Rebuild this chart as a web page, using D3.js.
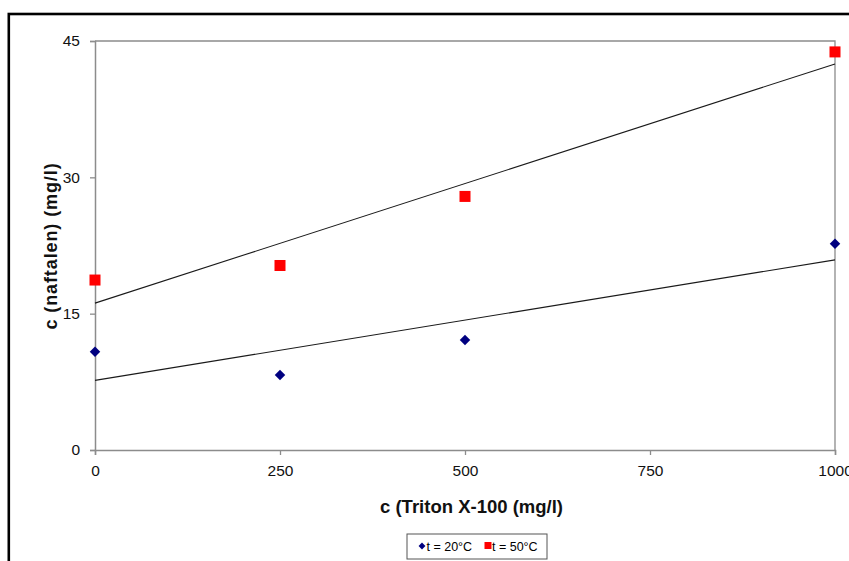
<!DOCTYPE html>
<html>
<head>
<meta charset="utf-8">
<script src="https://cdn.jsdelivr.net/npm/d3@7"></script>
<style>
  html, body { margin: 0; padding: 0; background: #fff; }
  svg { display: block; font-family: "Liberation Sans", Arial, sans-serif; }
</style>
</head>
<body>
<svg id="chart" width="849" height="561"></svg>
<script>
// Surfactant concentration (mg/l) and measured naphthalene solubility (mg/l)
const tritonConc = [0, 250, 500, 1000];
const naft20 = [10.8, 8.25, 12.1, 22.7];
const naft50 = [18.7, 20.3, 27.9, 43.8];
const xTicks = [0, 250, 500, 750, 1000];
const yTicks = [0, 15, 30, 45];
const seriesNames = ["t = 20°C", "t = 50°C"];

const svg = d3.select("#chart");

// Outer chart frame
svg.append("rect")
  .attr("x", 8.8).attr("y", 14)
  .attr("width", 860).attr("height", 570)
  .attr("fill", "#fff").attr("stroke", "#000").attr("stroke-width", 2.6);

const plot = { left: 95, top: 41, right: 835, bottom: 450 };

const x = d3.scaleLinear().domain([0, 1000]).range([plot.left, plot.right]);
const y = d3.scaleLinear().domain([0, 45]).range([plot.bottom, plot.top]);

// Plot area frame (top and right edges)
svg.append("path")
  .attr("d", `M${plot.left},${plot.top}H${plot.right}V${plot.bottom}`)
  .attr("fill", "none").attr("stroke", "#8c8c8c").attr("stroke-width", 1.3);

// Axes
const yAxis = d3.axisLeft(y).tickValues(yTicks).tickSize(5).tickPadding(10).tickFormat(d3.format("d"));
const xAxis = d3.axisBottom(x).tickValues(xTicks).tickSize(5).tickPadding(10).tickFormat(d3.format("d"));

const gy = svg.append("g").attr("transform", `translate(${plot.left},0)`).call(yAxis);
const gx = svg.append("g").attr("transform", `translate(0,${plot.bottom})`).call(xAxis);
[gx, gy].forEach(g => {
  g.select(".domain").attr("stroke", "#8c8c8c").attr("stroke-width", 1.5);
  g.selectAll(".tick line").attr("stroke", "#8c8c8c").attr("stroke-width", 1.3);
  g.selectAll(".tick text").attr("fill", "#111").attr("font-size", 15.5)
    .attr("font-family", "'Liberation Sans', Arial, sans-serif");
});

// Linear least-squares trend line for a series
function fit(xs, ys) {
  const mx = d3.mean(xs), my = d3.mean(ys);
  let sxy = 0, sxx = 0;
  xs.forEach((v, i) => { sxy += (v - mx) * (ys[i] - my); sxx += (v - mx) ** 2; });
  const b = sxy / sxx;
  return { a: my - b * mx, b };
}

[naft20, naft50].forEach(ys => {
  const f = fit(tritonConc, ys);
  svg.append("line")
    .attr("x1", x(0)).attr("y1", y(f.a))
    .attr("x2", x(1000)).attr("y2", y(f.a + f.b * 1000))
    .attr("stroke", "#1a1a1a").attr("stroke-width", 1.1);
});

// Markers
const diamond = d3.symbol().type(d3.symbolDiamond2).size(70);
svg.append("g").selectAll("path")
  .data(tritonConc.map((c, i) => [c, naft20[i]]))
  .join("path")
  .attr("d", diamond)
  .attr("transform", d => `translate(${x(d[0])},${y(d[1])})`)
  .attr("fill", "#000080");

const sq = 11;
svg.append("g").selectAll("rect")
  .data(tritonConc.map((c, i) => [c, naft50[i]]))
  .join("rect")
  .attr("x", d => x(d[0]) - sq / 2).attr("y", d => y(d[1]) - sq / 2)
  .attr("width", sq).attr("height", sq)
  .attr("fill", "#ff0000");

// Axis titles
svg.append("text")
  .attr("x", 471.5).attr("y", 512.5)
  .attr("text-anchor", "middle")
  .attr("font-size", 18.5).attr("font-weight", "bold")
  .attr("fill", "#111")
  .text("c (Triton X-100 (mg/l)");

svg.append("text")
  .attr("transform", `translate(57,246) rotate(-90)`)
  .attr("text-anchor", "middle")
  .attr("font-size", 18).attr("font-weight", "bold")
  .attr("letter-spacing", 0.9)
  .attr("fill", "#111")
  .text("c (naftalen) (mg/l)");

// Legend
const lg = svg.append("g");
lg.append("rect")
  .attr("x", 407).attr("y", 534).attr("width", 140).attr("height", 25)
  .attr("fill", "#fff").attr("stroke", "#555").attr("stroke-width", 1);
lg.append("path")
  .attr("d", d3.symbol().type(d3.symbolDiamond2).size(30))
  .attr("transform", "translate(422,546)")
  .attr("fill", "#000080");
lg.append("text").attr("x", 426.5).attr("y", 550.5).attr("font-size", 12.5).text(seriesNames[0]);
lg.append("rect").attr("x", 484.5).attr("y", 542).attr("width", 7).attr("height", 7).attr("fill", "#ff0000");
lg.append("text").attr("x", 492).attr("y", 550.5).attr("font-size", 12.5).text(seriesNames[1]);
</script>
</body>
</html>
